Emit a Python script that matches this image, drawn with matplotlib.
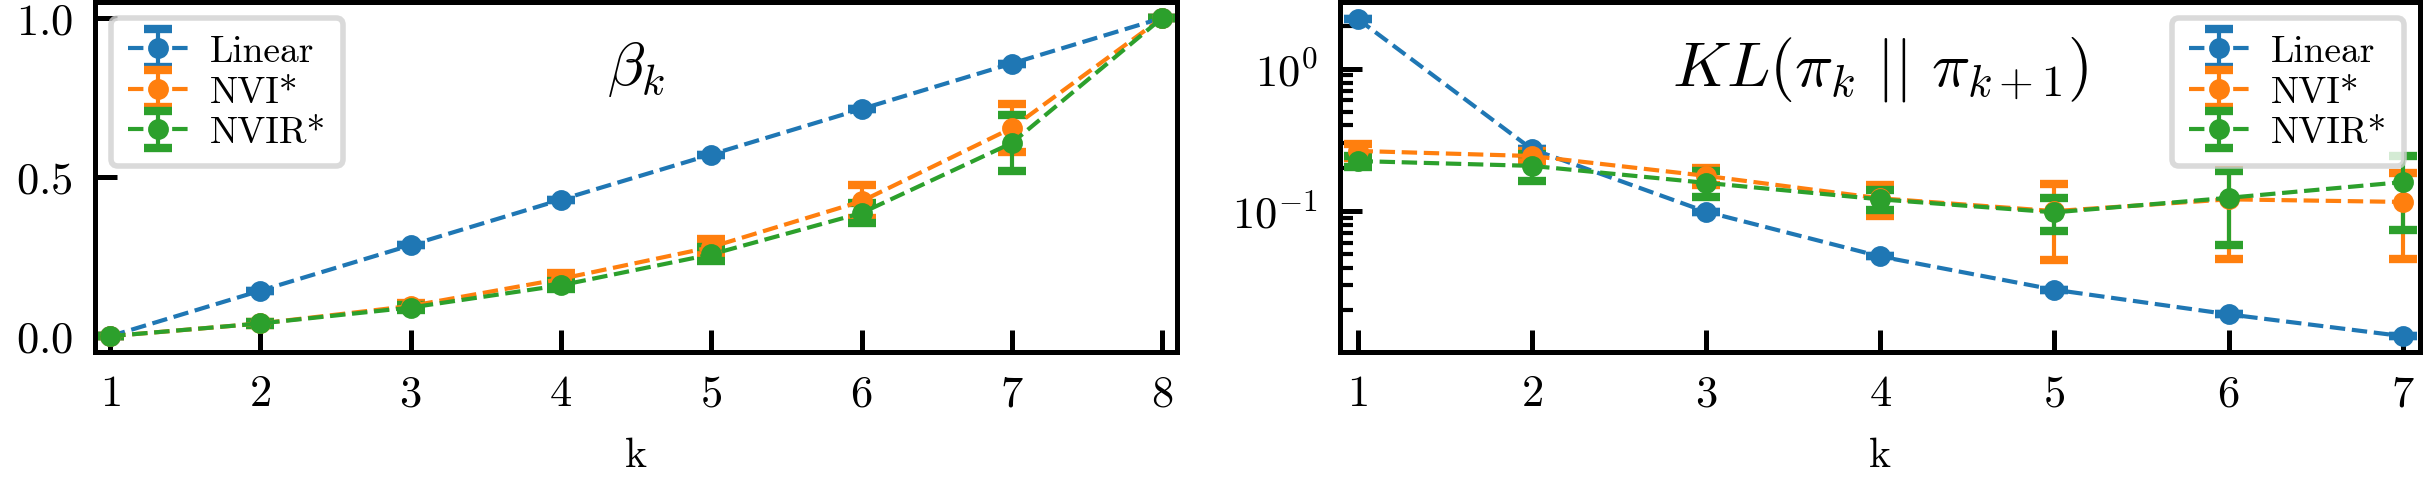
import matplotlib
matplotlib.use('Agg')
import matplotlib.pyplot as plt
import numpy as np

plt.rcParams.update({
    'font.family': 'serif',
    'font.serif': ['cmr10'],
    'mathtext.fontset': 'cm',
    'axes.formatter.use_mathtext': True,
    'axes.linewidth': 1.8,
    'xtick.direction': 'in',
    'ytick.direction': 'in',
    'xtick.major.size': 8,
    'ytick.major.size': 8,
    'xtick.major.width': 1.8,
    'ytick.major.width': 1.8,
    'ytick.minor.size': 4.5,
    'ytick.minor.width': 1.5,
    'xtick.top': False,
    'ytick.right': False,
})

# ---- data ----
k_beta = [1, 2, 3, 4, 5, 6, 7, 8]
beta_linear = [0.0, 0.143, 0.286, 0.429, 0.571, 0.714, 0.857, 1.0]
beta_linear_err = [0, 0, 0, 0, 0, 0, 0, 0]
beta_nvi = [0.0, 0.04, 0.095, 0.18, 0.28, 0.424, 0.654, 1.0]
beta_nvi_err = [0.0, 0.005, 0.008, 0.02, 0.025, 0.052, 0.075, 0.0]
beta_nvir = [0.0, 0.04, 0.09, 0.16, 0.257, 0.387, 0.607, 1.0]
beta_nvir_err = [0.0, 0.005, 0.008, 0.012, 0.022, 0.032, 0.088, 0.0]

k_kl = [1, 2, 3, 4, 5, 6, 7]
kl_linear = [2.25, 0.273, 0.099, 0.048, 0.028, 0.0188, 0.0132]
kl_linear_err = [0, 0, 0, 0, 0, 0, 0]
kl_nvi = [0.265, 0.244, 0.177, 0.123, 0.100, 0.121, 0.116]
kl_nvi_err = [0.03, 0.02, 0.025, 0.03, 0.055, 0.075, 0.07]
kl_nvir = [0.225, 0.208, 0.158, 0.121, 0.098, 0.124, 0.160]
kl_nvir_err = [0.02, 0.045, 0.033, 0.02, 0.025, 0.066, 0.086]

labels = ['Linear', 'NVI*', 'NVIR*']
colors = ['#1f77b4', '#ff7f0e', '#2ca02c']

fig = plt.figure(figsize=(12.13, 2.425), dpi=200)
ax1 = fig.add_axes([0.0392, 0.272, 0.446, 0.7216])
ax2 = fig.add_axes([0.5524, 0.272, 0.4452, 0.7216])

style = dict(fmt='o--', ms=6.5, lw=1.5, elinewidth=1.5, capsize=5, capthick=3)

for y, e, lab, c in zip([beta_linear, beta_nvi, beta_nvir],
                        [beta_linear_err, beta_nvi_err, beta_nvir_err], labels, colors):
    ax1.errorbar(k_beta, y, yerr=e, color=c, label=lab, **style)

for y, e, lab, c in zip([kl_linear, kl_nvi, kl_nvir],
                        [kl_linear_err, kl_nvi_err, kl_nvir_err], labels, colors):
    ax2.errorbar(k_kl, y, yerr=e, color=c, label=lab, **style)

ax2.set_yscale('log')

ax1.set_xlim(0.9, 8.1)
ax2.set_xlim(0.9, 7.1)
ax1.set_ylim(-0.05, 1.05)
ax2.set_ylim(0.0102, 2.95)
ax1.set_xticks(k_beta)
ax2.set_xticks(k_kl)
ax1.set_yticks([0.0, 0.5, 1.0])

for ax in (ax1, ax2):
    ax.tick_params(labelsize=16, pad=8)
    ax.set_xlabel('k', fontsize=15, labelpad=8)

ax1.text(0.5, 0.81, r'$\beta_k$', transform=ax1.transAxes, ha='center', va='center', fontsize=22)
ax2.text(0.5, 0.81, r'$KL(\pi_k\ ||\ \pi_{k+1})$', transform=ax2.transAxes, ha='center', va='center', fontsize=23)

for ax, loc in ((ax1, 'upper left'), (ax2, 'upper right')):
    leg = ax.legend(loc=loc, fontsize=13.5, handlelength=1.6, handletextpad=0.6,
                    labelspacing=0.2, borderaxespad=0.42, borderpad=0.45)
    leg.get_frame().set_linewidth(2.0)
    leg.get_frame().set_edgecolor('0.82')

fig.savefig('out.png', dpi=200)
